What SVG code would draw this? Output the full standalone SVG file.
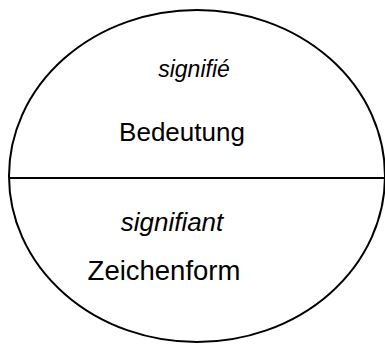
<svg xmlns="http://www.w3.org/2000/svg" width="385" height="344" viewBox="0 0 385 344">
<style>
.shape{fill:none;stroke:#000;stroke-width:2}
.t{font-family:"Liberation Sans",Arial,sans-serif;font-size:26px;fill:#000;text-anchor:middle}
.i{font-style:italic}
</style>
<rect width="385" height="344" fill="#fff"/>
<g id="sign">
<ellipse class="shape" cx="197" cy="176" rx="188" ry="166"/>
</g>
<g id="connectors">
<line class="shape" x1="9" y1="178" x2="385" y2="178"/>
</g>
<g id="signifie">
<text class="t i" x="194" y="77" style="font-size:23px">signifié</text>
<text class="t" x="182" y="141">Bedeutung</text>
</g>
<g id="signifiant">
<text class="t i" x="172" y="231">signifiant</text>
<text class="t" x="164" y="280" style="font-size:27.5px">Zeichenform</text>
</g>
</svg>
